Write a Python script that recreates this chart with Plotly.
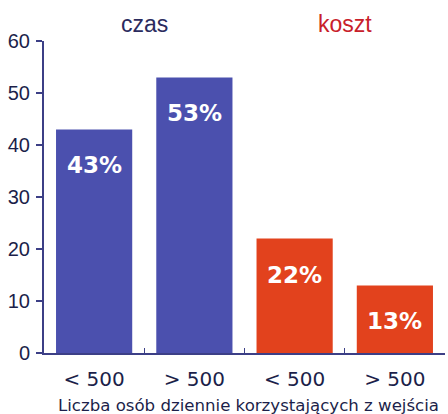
import plotly.graph_objects as go

categories = ["a", "b", "c", "d"]
tick_labels = ["< 500", "> 500", "< 500", "> 500"]
values = [43, 53, 22, 13]
bar_labels = ["43%", "53%", "22%", "13%"]
colors = ["#4b50ae", "#4b50ae", "#e2421d", "#e2421d"]
group_titles = ["czas", "koszt"]
group_colors = ["#2b2b5e", "#c8202a"]
x_title = "Liczba osób dziennie korzystających z wejścia"

axis_col = "#3c3f86"

fig = go.Figure()
fig.add_trace(go.Bar(
    x=categories, y=values,
    marker=dict(color=colors, line=dict(color="#1e1e40", width=0)),
    hoverinfo="skip",
))

for c, v, t in zip(categories, values, bar_labels):
    fig.add_annotation(x=c, y=v, yshift=-36, text=t, showarrow=False,
                       font=dict(family="DejaVu Sans", size=23, color="white", weight="bold"))

# group titles
for i, (gt, gc) in enumerate(zip(group_titles, group_colors)):
    fig.add_annotation(x=0.5 + 2 * i, y=1, xref="x", yref="paper", yanchor="middle", yshift=17,
                       text=gt, showarrow=False,
                       font=dict(family="Liberation Sans", size=23, color=gc))

fig.add_annotation(x=0.51, y=0, xref="paper", yref="paper", yanchor="middle", yshift=-52, text=x_title,
                   showarrow=False, font=dict(family="DejaVu Sans", size=16.6, color="#1c1f4a"))

fig.update_layout(
    width=448, height=414,
    margin=dict(l=44, r=3, t=41, b=61),
    paper_bgcolor="white", plot_bgcolor="white",
    bargap=0.24, showlegend=False,
    xaxis=dict(
        tickmode="array", tickvals=categories, ticktext=tick_labels,
        tickson="boundaries", ticks="inside", ticklen=5, tickcolor=axis_col,
        showline=True, linecolor=axis_col, linewidth=2,
        tickfont=dict(family="DejaVu Sans", size=20, color="#1c1f4a"),
        ticklabelstandoff=7,
        showgrid=False, range=[-0.5, 3.5], fixedrange=True, automargin=False,
    ),
    yaxis=dict(
        range=[0, 60], tickvals=[0, 10, 20, 30, 40, 50, 60],
        ticks="outside", ticklen=6, tickcolor=axis_col, tickwidth=2,
        showline=True, linecolor=axis_col, linewidth=2,
        tickfont=dict(family="Liberation Sans", size=20, color="#1c1f4a"),
        showgrid=False, zeroline=False, ticklabelstandoff=2, automargin=False,
    ),
)

fig.write_html("out.html", config={"displayModeBar": False},
               post_script="document.body.style.margin='0';")
